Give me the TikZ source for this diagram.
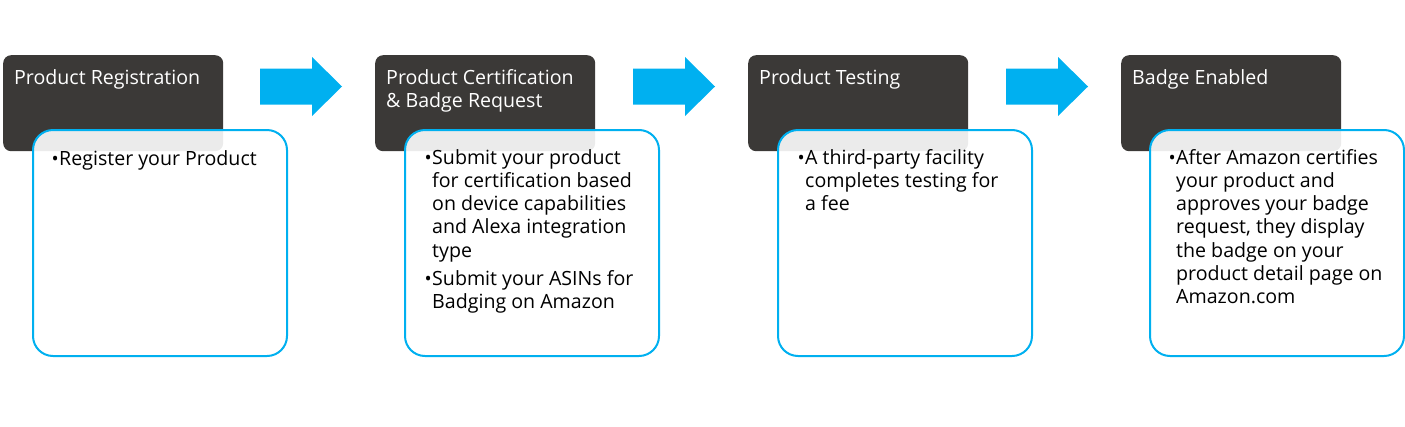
\documentclass[tikz,border=0pt]{standalone}
\usepackage{fontspec}
\setmainfont{Open Sans}
\definecolor{darkgray}{HTML}{3B3937}
\definecolor{cyanb}{HTML}{00B0F0}
\newcommand{\txtlines}[1]{\begin{tabular}[t]{@{}l@{}}#1\end{tabular}}
\tikzset{
  darkbox/.style={fill=darkgray, rounded corners=8pt, minimum width=220pt, minimum height=96pt, anchor=north west, inner sep=0pt},
  whitebox/.style={draw=cyanb, line width=2pt, fill=white, fill opacity=0.9, rounded corners=20pt, minimum width=254pt, minimum height=226pt, anchor=north west, inner sep=0pt},
  title/.style={text=white, anchor=base west, inner sep=0pt, font=\fontsize{19.6}{23.3}\selectfont},
  body/.style={text=black, anchor=base west, inner sep=0pt, font=\fontsize{19.6}{23.3}\selectfont},
  bul/.style={text=black, anchor=base east, inner sep=0pt, font=\fontsize{19}{23.3}\selectfont},
  bigarrow/.pic={\fill[cyanb] (-41,-18) -- (11,-18) -- (11,-29.5) -- (41,0) -- (11,29.5) -- (11,18) -- (-41,18) -- cycle;}
}
\begin{document}
\begin{tikzpicture}[x=1pt,y=-1pt]
\useasboundingbox (0,0) rectangle (1405,426);
% stage 1
\node[darkbox] (d1) at (3,55) {};
\node[title] (t1) at (14,84) {Product Registration};
\node[whitebox] (w1) at (32,129) {};
\node[bul] (b1a) at (59,165) {•};
\node[body] (x1a) at (59,165) {Register your Product};
% stage 2
\node[darkbox] (d2) at (375,55) {};
\node[title] (t2) at (386,84) {\txtlines{Product Certification\\ \& Badge Request}};
\node[whitebox] (w2) at (404,129) {};
\node[bul] (b2a) at (432,164) {•};
\node[body] (x2a) at (432,164) {\txtlines{Submit your product\\for certification based\\on device capabilities\\and Alexa integration\\type}};
\node[bul] (b2b) at (432,285) {•};
\node[body] (x2b) at (432,285) {\txtlines{Submit your ASINs for\\Badging on Amazon}};
% stage 3
\node[darkbox] (d3) at (748,55) {};
\node[title] (t3) at (759,84) {Product Testing};
\node[whitebox] (w3) at (777,129) {};
\node[bul] (b3a) at (805,164) {•};
\node[body] (x3a) at (805,164) {\txtlines{A third-party facility\\completes testing for\\a fee}};
% stage 4
\node[darkbox] (d4) at (1121,55) {};
\node[title] (t4) at (1132,84) {Badge Enabled};
\node[whitebox] (w4) at (1149,129) {};
\node[bul] (b4a) at (1176,164) {•};
\node[body] (x4a) at (1176,164) {\txtlines{After Amazon certifies\\your product and\\approves your badge\\request, they display\\the badge on your\\product detail page on\\Amazon.com}};
% arrows
\pic (a1) at (301,86.5) {bigarrow};
\pic (a2) at (674,86.5) {bigarrow};
\pic (a3) at (1047,86.5) {bigarrow};
\end{tikzpicture}
\end{document}
